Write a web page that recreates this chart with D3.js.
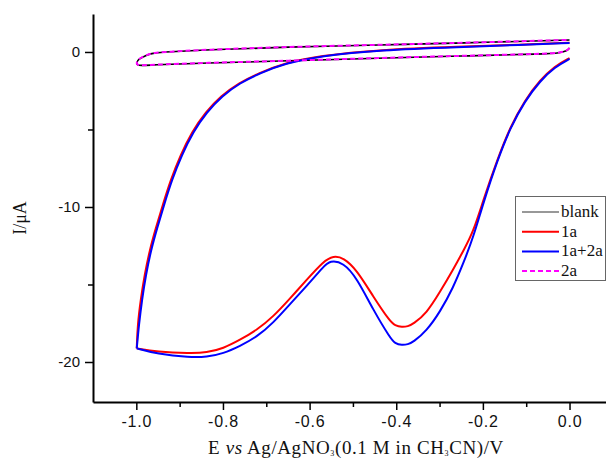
<!DOCTYPE html>
<html>
<head>
<meta charset="utf-8">
<script src="https://cdn.jsdelivr.net/npm/d3@7"></script>
<style>
  body { margin: 0; background: #fff; }
  svg { display: block; }
</style>
</head>
<body>
<svg id="chart" width="606" height="460"></svg>
<script>
// [E (V), I (uA)], in scan order
var blankPts = [
	[0.0, 0.26], [-0.006, 0.06], [-0.022, -0.05], [-0.052, -0.13], [-0.253, -0.26], [-0.437, -0.39],
	[-0.652, -0.58], [-0.845, -0.71], [-0.968, -0.84], [-0.998, -0.90], [-1.0, -0.71], [-0.995, -0.45],
	[-0.975, -0.19], [-0.961, -0.06], [-0.928, 0.0], [-0.845, 0.13], [-0.652, 0.32], [-0.437, 0.45],
	[-0.253, 0.58], [0.0, 0.77]
]
var pts2a = [
	[0.0, 0.27], [-0.006, 0.07], [-0.022, -0.04], [-0.052, -0.12], [-0.253, -0.25], [-0.437, -0.38],
	[-0.652, -0.57], [-0.845, -0.70], [-0.968, -0.83], [-0.998, -0.89], [-1.0, -0.70], [-0.995, -0.44],
	[-0.975, -0.18], [-0.961, -0.05], [-0.928, 0.01], [-0.845, 0.14], [-0.652, 0.33], [-0.437, 0.46],
	[-0.253, 0.59], [0.0, 0.78]
]
var pts1a = [
	[0.0, -0.39], [-0.034, -0.90], [-0.068, -1.81], [-0.103, -3.10], [-0.137, -4.84], [-0.167, -6.97],
	[-0.199, -9.55], [-0.222, -11.59], [-0.244, -12.77], [-0.269, -14.06], [-0.299, -15.48],
	[-0.330, -16.86], [-0.361, -17.55], [-0.373, -17.70], [-0.387, -17.76], [-0.403, -17.64],
	[-0.414, -17.40], [-0.453, -15.79], [-0.491, -14.06], [-0.522, -13.27], [-0.545, -13.15],
	[-0.568, -13.50], [-0.607, -14.71], [-0.645, -15.89], [-0.684, -17.08], [-0.722, -17.94],
	[-0.761, -18.58], [-0.799, -19.12], [-0.838, -19.40], [-0.876, -19.44], [-0.953, -19.34], [-0.999, -19.12],
	[-0.997, -17.61], [-0.990, -16.00], [-0.981, -14.39], [-0.969, -12.77], [-0.955, -11.36], [-0.939, -9.87],
	[-0.921, -8.26], [-0.898, -6.65], [-0.872, -5.16], [-0.840, -3.87], [-0.805, -2.84], [-0.764, -2.00],
	[-0.717, -1.36], [-0.660, -0.74], [-0.579, -0.25], [-0.437, 0.15], [-0.253, 0.34], [-0.114, 0.47], [0.0, 0.60]
]
var pts1a2a = [
	[0.0, -0.45], [-0.034, -0.97], [-0.068, -1.87], [-0.103, -3.16], [-0.137, -4.90], [-0.167, -7.03],
	[-0.199, -9.74], [-0.222, -11.94], [-0.244, -13.55], [-0.269, -15.23], [-0.299, -16.77],
	[-0.330, -17.99], [-0.361, -18.72], [-0.373, -18.86], [-0.387, -18.92], [-0.403, -18.80],
	[-0.414, -18.45], [-0.453, -16.65], [-0.491, -14.58], [-0.522, -13.58], [-0.553, -13.45],
	[-0.568, -13.85], [-0.607, -15.10], [-0.645, -16.26], [-0.684, -17.48], [-0.722, -18.39],
	[-0.761, -18.97], [-0.799, -19.45], [-0.838, -19.68], [-0.876, -19.71], [-0.953, -19.48], [-0.999, -19.12],
	[-0.994, -17.61], [-0.987, -16.00], [-0.978, -14.39], [-0.966, -12.77], [-0.952, -11.36], [-0.936, -9.87],
	[-0.918, -8.26], [-0.895, -6.65], [-0.869, -5.16], [-0.837, -3.87], [-0.802, -2.84], [-0.761, -2.00],
	[-0.714, -1.36], [-0.657, -0.74], [-0.576, -0.26], [-0.437, 0.13], [-0.253, 0.32], [-0.114, 0.45], [0.0, 0.58]
]

var seriesNames = ["blank", "1a", "1a+2a", "2a"]
var seriesColors = ["#000000", "#ff0000", "#0000ff", "#ff00ff"]
var seriesData = [blankPts, pts1a, pts1a2a, pts2a]

var xMajor = [-1.0, -0.8, -0.6, -0.4, -0.2, 0.0]
var xMinor = [-0.9, -0.7, -0.5, -0.3, -0.1]
var yMajor = [0, -10, -20]
var yMinor = [-5, -15]

var margin = ({top: 14, right: 0, bottom: 58, left: 93})
var width = 606
var height = 460

var x = d3.scaleLinear()
	.domain([-1.1, 0.0842])
	.range([margin.left, width - margin.right])

var y = d3.scaleLinear()
	.domain([-22.58, 2.45])
	.range([height - margin.bottom, margin.top])

var svg = d3.select("#chart")

var lineFunction = d3.line()
	.curve(d3.curveBasis)
	.x(d => x(d[0]))
	.y(d => y(d[1]))

seriesData.forEach((pts, i) => {
	// the big cycles turn sharply at -1.0 V: draw forward and return scans apart
	var parts = [pts]
	if (i == 1 || i == 2) {
		var k = d3.minIndex(pts, d => d[0])
		parts = [pts.slice(0, k + 1), pts.slice(k)]
	}
	parts.forEach(p => {
		svg.append("path")
			.attr("fill", "none")
			.attr("stroke", seriesColors[i])
			.attr("stroke-width", i == 0 ? 1.6 : 2)
			.attr("stroke-dasharray", i == 3 ? "5,3" : null)
			.attr("stroke-linejoin", "round")
			.attr("d", lineFunction(p))
	})
})

// axes
var fmt = d => d.toFixed(1)
var xAxis = g => g
	.attr("transform", `translate(0,${height - margin.bottom})`)
	.call(d3.axisBottom(x).tickValues(xMajor).tickFormat(fmt).tickSize(8).tickPadding(6).tickSizeOuter(0))
	.call(g => g.selectAll(".tick text").attr("font-family", "Liberation Sans, Arial").attr("font-size", 16).attr("letter-spacing", 0.8).attr("fill", "#111"))

var xAxisMinor = g => g
	.attr("transform", `translate(0,${height - margin.bottom})`)
	.call(d3.axisBottom(x).tickValues(xMinor).tickFormat("").tickSize(5).tickSizeOuter(0))
	.call(g => g.select(".domain").remove())

var yAxis = g => g
	.attr("transform", `translate(${margin.left},0)`)
	.call(d3.axisLeft(y).tickValues(yMajor).tickFormat(d => String(d)).tickSize(8).tickPadding(5).tickSizeOuter(0))
	.call(g => g.selectAll(".tick text").attr("font-family", "Liberation Sans, Arial").attr("font-size", 15).attr("fill", "#111"))

var yAxisMinor = g => g
	.attr("transform", `translate(${margin.left},0)`)
	.call(d3.axisLeft(y).tickValues(yMinor).tickFormat("").tickSize(5).tickSizeOuter(0))
	.call(g => g.select(".domain").remove())

svg.append("g").call(xAxis)
svg.append("g").call(xAxisMinor)
svg.append("g").call(yAxis)
svg.append("g").call(yAxisMinor)

svg.selectAll(".domain").attr("stroke-width", 2)
svg.selectAll(".tick line").attr("stroke-width", 1.5)

// axis titles
var xt = svg.append("text")
	.attr("x", 356)
	.attr("y", 454)
	.attr("text-anchor", "middle")
	.attr("font-family", "Liberation Serif, Times New Roman")
	.attr("font-size", 19)
	.attr("letter-spacing", 0.6)
	.attr("fill", "#111")
xt.append("tspan").text("E ")
xt.append("tspan").attr("font-style", "italic").text("vs")
xt.append("tspan").text(" Ag/AgNO")
xt.append("tspan").attr("font-size", 8).attr("dy", 2).text("3")
xt.append("tspan").attr("dy", -2).text("(0.1 M in CH")
xt.append("tspan").attr("font-size", 8).attr("dy", 2).text("3")
xt.append("tspan").attr("dy", -2).text("CN)/V")

svg.append("text")
	.attr("transform", "translate(26,218) rotate(-90)")
	.attr("text-anchor", "middle")
	.attr("font-family", "Liberation Serif, Times New Roman")
	.attr("font-size", 18)
	.attr("fill", "#111")
	.text("I/μA")

// legend
var legend = svg.append("g")
legend.append("rect")
	.attr("x", 515.5).attr("y", 196.5)
	.attr("width", 90).attr("height", 84)
	.attr("fill", "#fff")
	.attr("stroke", "#666")
	.attr("stroke-width", 1)

seriesNames.forEach((name, i) => {
	var yy = 212 + i * 19.7
	legend.append("line")
		.attr("x1", 522).attr("x2", 559)
		.attr("y1", yy).attr("y2", yy)
		.attr("stroke", i == 0 ? "#333" : seriesColors[i])
		.attr("stroke-width", i == 0 ? 1.2 : 2)
		.attr("stroke-dasharray", i == 3 ? "5,3" : null)
	legend.append("text")
		.attr("x", 561).attr("y", yy + 5)
		.attr("font-family", "Liberation Serif, Times New Roman")
		.attr("font-size", 17)
		.attr("fill", "#111")
		.text(name)
})
</script>
</body>
</html>
